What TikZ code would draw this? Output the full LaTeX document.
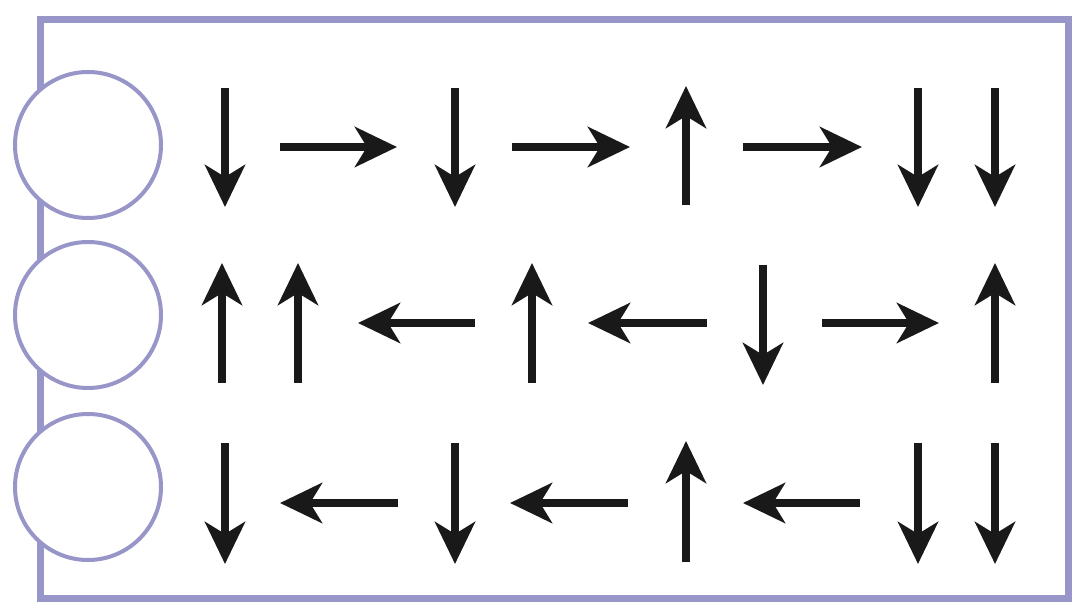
\documentclass[tikz,border=0pt]{standalone}
\usepackage{tikz}
\usetikzlibrary{arrows.meta}
\definecolor{lav}{RGB}{152,150,200}
\tikzset{
  frame/.style={draw=lav, line width=3.5pt},
  pole/.style={circle, draw=lav, line width=2pt, fill=white, inner sep=0pt, minimum size=73pt},
  spin/.style={-{Stealth[length=21pt, width=20pt, inset=6pt]}, line width=4pt, black!90},
}
\begin{document}
\begin{tikzpicture}[x=0.5pt, y=-0.5pt]
\useasboundingbox (0,0) rectangle (1078,615);
% outer frame
\draw[frame] (40,20) rectangle (1068,598);
% circles on the left edge
\foreach \i/\y in {1/145, 2/315, 3/487}
  \node[pole] (p\i) at (88,\y) {};
% arrows, row by row
\foreach \xa/\ya/\xb/\yb in {
  225/88/225/207, 280/147/397/147, 455/88/455/207, 512/147/630/147,
  686/205/686/86, 743/147/862/147, 918/88/918/207, 995/88/995/207,
  222/383/222/263, 298/383/298/263, 475/323/358/323, 532/383/532/263,
  707/323/588/323, 763/265/763/385, 822/323/939/323, 995/383/995/263,
  225/443/225/564, 398/503/280/503, 455/443/455/564, 628/503/510/503,
  686/562/686/441, 860/503/743/503, 918/443/918/564, 995/443/995/564}
  \draw[spin] (\xa,\ya) -- (\xb,\yb);
\end{tikzpicture}
\end{document}
